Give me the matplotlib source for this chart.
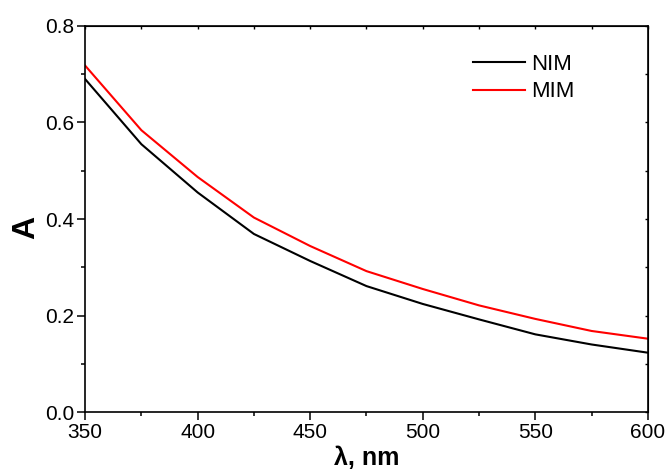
import numpy as np
import matplotlib
matplotlib.use("Agg")
import matplotlib.pyplot as plt

plt.rcParams['font.family'] = ['Liberation Sans', 'DejaVu Sans']

# wavelength (nm) and absorbance
wavelength = [350, 375, 400, 425, 450, 475, 500, 525, 550, 575, 600]
nim = [0.690, 0.555, 0.455, 0.369, 0.313, 0.261, 0.224, 0.192, 0.161, 0.140, 0.123]
mim = [0.718, 0.584, 0.487, 0.403, 0.344, 0.292, 0.255, 0.221, 0.193, 0.168, 0.152]

fig = plt.figure(figsize=(6.7, 4.72), dpi=100)
ax = fig.add_axes([0.127, 0.127, 0.840, 0.818])

ax.plot(wavelength, nim, color="black", lw=1.5, label="NIM")
ax.plot(wavelength, mim, color="#ff0000", lw=1.5, label="MIM")

ax.set_xlim(350, 600)
ax.set_ylim(0, 0.8)
ax.set_xticks([350, 400, 450, 500, 550, 600])
ax.set_xticks(np.arange(375, 600, 50), minor=True)
ax.set_yticks([0.0, 0.2, 0.4, 0.6, 0.8])
ax.set_yticks([0.1, 0.3, 0.5, 0.7], minor=True)
ax.set_yticklabels(["0.0", "0.2", "0.4", "0.6", "0.8"])

for s in ax.spines.values():
    s.set_linewidth(1.2)
ax.tick_params(which="major", direction="out", length=5.8, width=1.1, labelsize=15, pad=2)
ax.tick_params(which="minor", direction="out", length=3, width=1.1)

# inward ticks on top and right
top = ax.secondary_xaxis("top")
top.set_xticks([350, 400, 450, 500, 550, 600])
top.set_xticks(np.arange(375, 600, 50), minor=True)
top.tick_params(which="both", direction="in", length=2.5, width=1, labeltop=False)
right = ax.secondary_yaxis("right")
right.set_yticks([0.0, 0.2, 0.4, 0.6, 0.8])
right.set_yticks([0.1, 0.3, 0.5, 0.7], minor=True)
right.tick_params(which="both", direction="in", length=2.5, width=1, labelright=False)

ax.set_xlabel("λ, nm", fontsize=18, fontweight="bold", labelpad=3)
ax.set_ylabel("A", fontsize=23, fontweight="bold")
ax.yaxis.set_label_coords(-0.078, 0.477)

ax.legend(loc="upper left", bbox_to_anchor=(0.69, 0.928), frameon=False,
          fontsize=16, handlelength=2.3, handletextpad=0.3, labelspacing=0.3,
          borderpad=0, borderaxespad=0)

fig.savefig("out.png", dpi=100)
